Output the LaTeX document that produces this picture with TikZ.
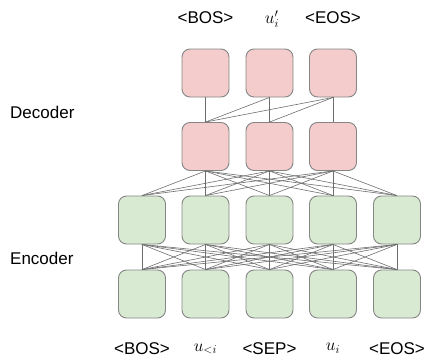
\documentclass[tikz,border=0pt]{standalone}
\usepackage{fontspec}
\setmainfont{Liberation Sans}
\definecolor{pinkfill}{HTML}{F4CCCC}
\definecolor{greenfill}{HTML}{D9EAD3}
\definecolor{boxborder}{HTML}{858585}
\definecolor{linkcol}{HTML}{6E6E6E}
\tikzset{
  cell/.style={draw=boxborder, line width=0.9pt, rounded corners=8pt, minimum width=47pt, minimum height=48pt, inner sep=0pt},
  deccell/.style={cell, fill=pinkfill},
  enccell/.style={cell, fill=greenfill},
  link/.style={draw=linkcol, line width=0.6pt},
  lbl/.style={inner sep=0pt, font=\fontsize{17}{20}\selectfont}
}
\begin{document}
\begin{tikzpicture}[x=1pt,y=-1pt]
\useasboundingbox (0,0) rectangle (426,362);
% encoder
\foreach \i/\x in {1/142,2/205.5,3/269.5,4/333,5/397}{
  \node[enccell] (eb\i) at (\x,294) {};
  \node[enccell] (et\i) at (\x,220) {};
}
% decoder
\foreach \i/\x in {1/205.5,2/269.5,3/333}{
  \node[deccell] (db\i) at (\x,146.5) {};
  \node[deccell] (dt\i) at (\x,73) {};
}
% encoder full connections
\foreach \i in {1,...,5}{
  \foreach \j in {1,...,5}{
    \draw[link] (eb\i.north) -- (et\j.south);
  }
}
% encoder to decoder
\foreach \i in {1,...,5}{
  \foreach \j in {1,2,3}{
    \draw[link] (et\i.north) -- (db\j.south);
  }
}
% decoder causal
\draw[link] (db1.north) -- (dt1.south);
\draw[link] (db1.north) -- (dt2.south);
\draw[link] (db1.north) -- (dt3.south);
\draw[link] (db2.north) -- (dt2.south);
\draw[link] (db2.north) -- (dt3.south);
\draw[link] (db3.north) -- (dt3.south);
% labels
\node[lbl] (tl1) at (205.5,18) {<BOS>};
\node[lbl] (tl2) at (272,19) {$u'_i$};
\node[lbl] (tl3) at (333,18) {<EOS>};
\node[lbl] (bl1) at (142,349) {<BOS>};
\node[lbl] (bl2) at (205.5,349) {$u_{<i}$};
\node[lbl] (bl3) at (269.5,349) {<SEP>};
\node[lbl] (bl4) at (333,348) {$u_i$};
\node[lbl] (bl5) at (397,349) {<EOS>};
\node[lbl, anchor=west] (declbl) at (10,112) {Decoder};
\node[lbl, anchor=west] (enclbl) at (10,258) {Encoder};
\end{tikzpicture}
\end{document}
